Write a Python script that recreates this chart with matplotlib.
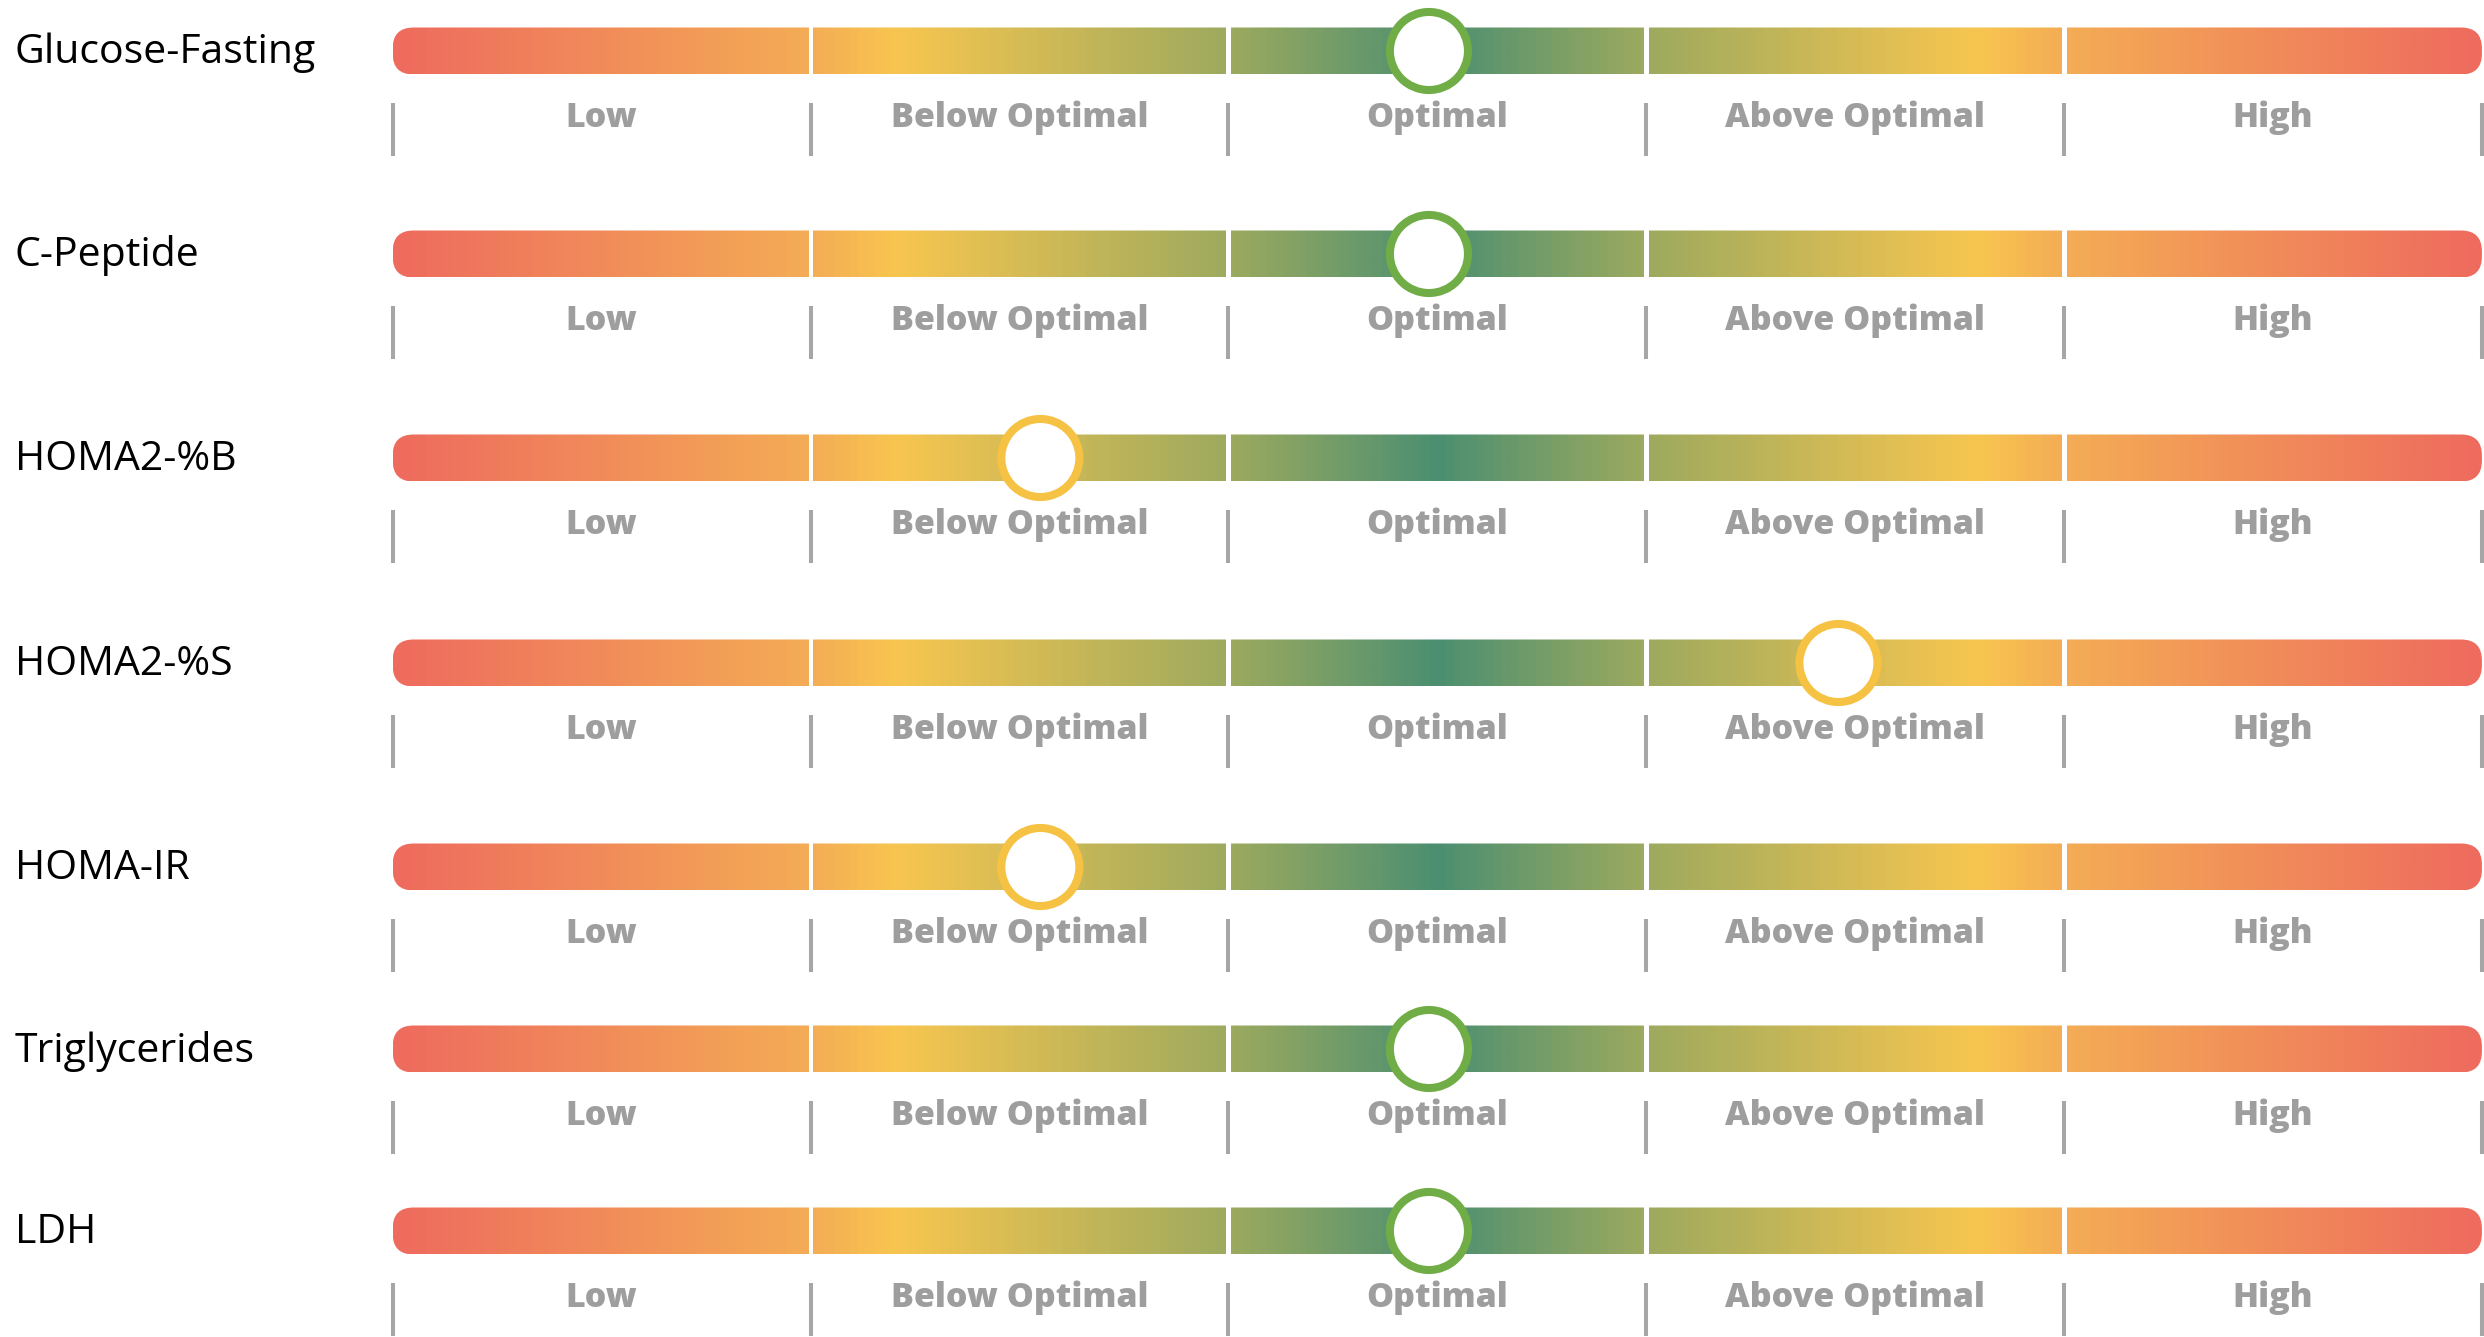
import numpy as np
import matplotlib
matplotlib.use("Agg")
import matplotlib.pyplot as plt
from matplotlib.colors import LinearSegmentedColormap
from matplotlib.patches import FancyBboxPatch

# biomarkers, top to bottom
markers = ["Glucose-Fasting", "C-Peptide", "HOMA2-%B", "HOMA2-%S",
           "HOMA-IR", "Triglycerides", "LDH"]
# where the result sits on the 0-5 range scale (one unit per band)
scores = [2.48, 2.48, 1.55, 3.46, 1.55, 2.48, 2.48]
status = ["optimal", "optimal", "below", "above", "below", "optimal", "optimal"]
bands = ["Low", "Below Optimal", "Optimal", "Above Optimal", "High"]

# layout (pixels from the top of the 2484x1337 canvas)
W, H = 2484, 1337
row_y = [51, 254, 458, 663, 867, 1049, 1231]
bar_h = 47
px_unit = 418.2          # pixels per band
x_left = -393 / px_unit  # scale starts 393 px in from the left

ring = {"optimal": "#70AD47", "below": "#F6C244", "above": "#F6C244"}

cmap = LinearSegmentedColormap.from_list("range", [
    (0.00, "#EE6B5E"), (0.20, "#F4AD55"), (0.24, "#F8C64F"),
    (0.40, "#9DAA5F"), (0.50, "#4B8F71"), (0.60, "#9DAA5F"),
    (0.76, "#F8C64F"), (0.80, "#F4AD55"), (1.00, "#EE6B5E")])

fig = plt.figure(figsize=(W / 100, H / 100), dpi=100)
ax = fig.add_axes([0, 0, 1, 1])
ax.set_axis_off()

gap = 0.006
nb = len(bands)
for name, y in zip(markers, row_y):
    # rounded outline of the whole bar, used to clip the gradient pieces
    clip = FancyBboxPatch((0, y - bar_h / 2), nb, bar_h,
                          boxstyle="round,pad=0,rounding_size=0.05",
                          mutation_aspect=px_unit, transform=ax.transData,
                          facecolor="none", edgecolor="none")
    ax.add_patch(clip)
    for i in range(nb):
        x0 = i + (gap if i > 0 else 0)
        x1 = i + 1 - (gap if i < nb - 1 else 0)
        grad = np.linspace(x0, x1, 300)[None, :]
        im = ax.imshow(grad, cmap=cmap, vmin=0, vmax=nb, aspect="auto",
                       extent=(x0, x1, y + bar_h / 2, y - bar_h / 2),
                       interpolation="bilinear")
        im.set_clip_path(clip)
        ax.text(i + 0.5, y + 67, bands[i], ha="center", va="center",
                fontsize=24.5, fontweight="heavy", color="#9E9E9E",
                family="Open Sans")
    ax.vlines(range(nb + 1), y + 52, y + 105, color="#A6A6A6", lw=2.9)
    ax.text(x_left + 15 / px_unit, y + 2, name, ha="left", va="center",
            fontsize=29.5, color="black", family="Open Sans")

ax.scatter(scores, row_y, s=3158, facecolor="white",
           edgecolors=[ring[s] for s in status], linewidths=5.8, zorder=5)

ax.set_xlim(x_left, (W - 393) / px_unit + 0.005)
ax.set_ylim(H, 0)

plt.savefig("out.png", dpi=100)
